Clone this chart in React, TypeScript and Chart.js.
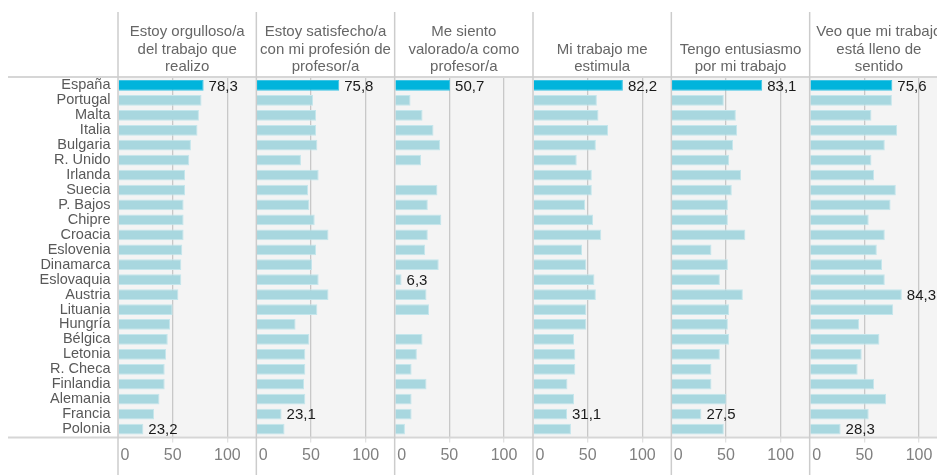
import React, { useEffect, useRef } from "react";
import { Chart, registerables } from "chart.js";

Chart.register(...registerables);

const COUNTRIES = [
  "España", "Portugal", "Malta", "Italia", "Bulgaria", "R. Unido", "Irlanda", "Suecia",
  "P. Bajos", "Chipre", "Croacia", "Eslovenia", "Dinamarca", "Eslovaquia", "Austria",
  "Lituania", "Hungría", "Bélgica", "Letonia", "R. Checa", "Finlandia", "Alemania",
  "Francia", "Polonia",
];

const TITLES = [
  ["Estoy orgulloso/a", "del trabajo que", "realizo"],
  ["Estoy satisfecho/a", "con mi profesión de", "profesor/a"],
  ["Me siento", "valorado/a como", "profesor/a"],
  ["Mi trabajo me", "estimula"],
  ["Tengo entusiasmo", "por mi trabajo"],
  ["Veo que mi trabajo", "está lleno de", "sentido"],
];

const ORGULLOSO = [78.3, 76.4, 74.0, 72.7, 66.7, 65.2, 61.3, 61.3, 60.0, 60.0, 60.0, 58.8, 57.9, 57.9, 55.2, 50.0, 47.6, 45.5, 44.0, 42.7, 42.7, 37.9, 33.0, 23.2];
const SATISFECHO = [75.8, 51.9, 54.6, 54.6, 55.8, 40.8, 57.0, 47.3, 48.5, 53.4, 66.0, 54.6, 51.0, 57.0, 66.0, 55.8, 35.9, 48.5, 44.8, 44.8, 43.6, 44.8, 23.1, 25.8];
const VALORADO = [50.7, 14.5, 25.5, 35.5, 41.5, 24.2, null, 39.1, 30.3, 42.7, 30.3, 27.9, 40.3, 6.3, 29.1, 31.5, null, 25.5, 20.3, 15.5, 29.1, 15.5, 15.5, 9.4];
const ESTIMULA = [82.2, 58.4, 59.9, 68.6, 57.5, 40.0, 53.8, 53.8, 47.6, 55.0, 62.4, 44.9, 48.8, 56.2, 57.5, 48.8, 48.8, 37.5, 38.7, 38.7, 31.5, 37.5, 31.1, 34.7];
const ENTUSIASMO = [83.1, 48.0, 59.0, 60.2, 56.5, 52.9, 63.8, 55.3, 51.7, 51.7, 67.7, 36.7, 51.7, 44.4, 65.4, 52.9, 51.7, 52.9, 44.4, 36.7, 36.7, 50.4, 27.5, 48.0];
const SENTIDO = [75.6, 75.2, 56.5, 80.0, 68.7, 56.5, 58.9, 78.8, 74.0, 54.0, 68.7, 61.4, 66.2, 68.7, 84.3, 76.4, 45.1, 63.8, 47.6, 43.9, 58.9, 69.9, 54.0, 28.3];

const SERIES = [ORGULLOSO, SATISFECHO, VALORADO, ESTIMULA, ENTUSIASMO, SENTIDO];

const LABELLED = [
  ["España", "Polonia"],
  ["España", "Francia"],
  ["España", "Eslovaquia"],
  ["España", "Francia"],
  ["España", "Francia"],
  ["España", "Austria", "Polonia"],
];

const X_TICKS = [0, 50, 100];
const X_MAX = 126.5;
const HIGHLIGHT = "España";

const FONT = "'Liberation Sans', Arial, 'DejaVu Sans', sans-serif";
const HIGHLIGHT_COLOR = "#00b4dc";
const BAR_COLOR = "#a8d7df";

const fmt = (v: number) => v.toFixed(1).replace(".", ",");

const decor = {
  id: "decor",
  beforeDraw(chart: any) {
    const { ctx, chartArea: a } = chart;
    ctx.save();
    ctx.fillStyle = "#f4f4f4";
    ctx.fillRect(a.left, a.top, a.right - a.left, a.bottom - a.top);
    ctx.restore();
  },
  afterDatasetsDraw(chart: any) {
    const { ctx } = chart;
    ctx.save();
    ctx.font = `15px ${FONT}`;
    ctx.fillStyle = "#1a1a1a";
    ctx.textAlign = "left";
    ctx.textBaseline = "middle";
    chart.data.datasets.forEach((ds: any, i: number) => {
      const meta = chart.getDatasetMeta(i);
      ds.data.forEach((v: number | null, j: number) => {
        if (v == null) return;
        if (!LABELLED[i].includes(COUNTRIES[j])) return;
        const el = meta.data[j];
        ctx.fillText(fmt(v), el.x + 5, el.y + 1);
      });
    });
    ctx.restore();
  },
  afterDraw(chart: any) {
    const { ctx, chartArea: a, width, height } = chart;
    ctx.save();
    ctx.strokeStyle = "#d6d6d6";
    ctx.lineWidth = 2;
    ctx.beginPath();
    ctx.moveTo(8, a.top - 1);
    ctx.lineTo(width, a.top - 1);
    ctx.moveTo(8, a.bottom + 1);
    ctx.lineTo(width, a.bottom + 1);
    ctx.stroke();

    for (let i = 0; i < SERIES.length; i++) {
      const s = chart.scales["x" + i];
      const x0 = s.getPixelForValue(0);
      ctx.strokeStyle = "#cccccc";
      ctx.lineWidth = 1.5;
      ctx.beginPath();
      ctx.moveTo(x0, 12);
      ctx.lineTo(x0, height);
      ctx.stroke();

      // header
      const cx = (s.left + s.right) / 2;
      ctx.font = `15px ${FONT}`;
      ctx.fillStyle = "#666666";
      ctx.textAlign = "center";
      ctx.textBaseline = "alphabetic";
      const lines = TITLES[i];
      const lh = 17.3;
      const lastBase = 71;
      lines.forEach((t, k) => {
        ctx.fillText(t, cx, lastBase - (lines.length - 1 - k) * lh);
      });

      // tick labels
      ctx.font = `16px ${FONT}`;
      ctx.fillStyle = "#808080";
      ctx.textBaseline = "middle";
      X_TICKS.forEach((v) => {
        const px = s.getPixelForValue(v);
        if (v === 0) {
          ctx.textAlign = "left";
          ctx.fillText(String(v), px + 2.5, 456);
        } else {
          ctx.textAlign = "center";
          ctx.fillText(String(v), px, 456);
        }
      });
    }
    ctx.restore();
  },
};

export default function App() {
  const ref = useRef<HTMLCanvasElement | null>(null);

  useEffect(() => {
    if (!ref.current) return;
    const scales: any = {
      y: {
        type: "category",
        position: "left",
        grid: { display: false, drawTicks: false },
        border: { display: false },
        ticks: {
          color: "#595959",
          font: { family: FONT, size: 14.5 },
          padding: 7.5,
          autoSkip: false,
        },
        afterFit: (s: any) => {
          s.width = 118;
        },
      },
    };
    SERIES.forEach((_, i) => {
      scales["x" + i] = {
        type: "linear",
        axis: "x",
        position: "bottom",
        stack: "panels",
        stackWeight: 1,
        min: 0,
        max: X_MAX,
        afterBuildTicks: (s: any) => {
          s.ticks = X_TICKS.map((v) => ({ value: v }));
        },
        afterFit: (s: any) => {
          s.height = 38.5;
        },
        ticks: { display: false },
        border: { display: false },
        grid: {
          color: (c: any) => (c.tick && c.tick.value === 0 ? "rgba(0,0,0,0)" : "#c8c8c8"),
          tickColor: (c: any) => (c.tick && c.tick.value === 0 ? "rgba(0,0,0,0)" : "#e2e2e2"),
          lineWidth: 1.3,
          drawTicks: true,
          tickLength: 6,
        },
      };
    });

    const chart = new Chart(ref.current, {
      type: "bar",
      data: {
        labels: COUNTRIES,
        datasets: SERIES.map((vals, i) => ({
          label: TITLES[i].join(" "),
          data: vals,
          xAxisID: "x" + i,
          yAxisID: "y",
          backgroundColor: COUNTRIES.map((c) => (c === HIGHLIGHT ? HIGHLIGHT_COLOR : BAR_COLOR)),
          borderColor: COUNTRIES.map((c) => (c === HIGHLIGHT ? "#3fc4e4" : "#c4e6ec")),
          borderWidth: 1,
          barPercentage: 0.72,
          categoryPercentage: 1,
          grouped: false,
        })),
      },
      options: {
        indexAxis: "y",
        responsive: false,
        animation: false,
        maintainAspectRatio: false,
        layout: { padding: { top: 78, left: 0, right: 0, bottom: 0 } },
        plugins: {
          legend: { display: false },
          title: { display: false },
          tooltip: { enabled: false },
        },
        scales,
      } as any,
      plugins: [decor as any],
    });
    return () => chart.destroy();
  }, []);

  return (
    <div
      style={{
        position: "fixed",
        left: 0,
        top: 0,
        width: 937,
        height: 475,
        overflow: "hidden",
        background: "#ffffff",
      }}
    >
      <canvas ref={ref} width={948} height={475} style={{ display: "block" }} />
    </div>
  );
}
